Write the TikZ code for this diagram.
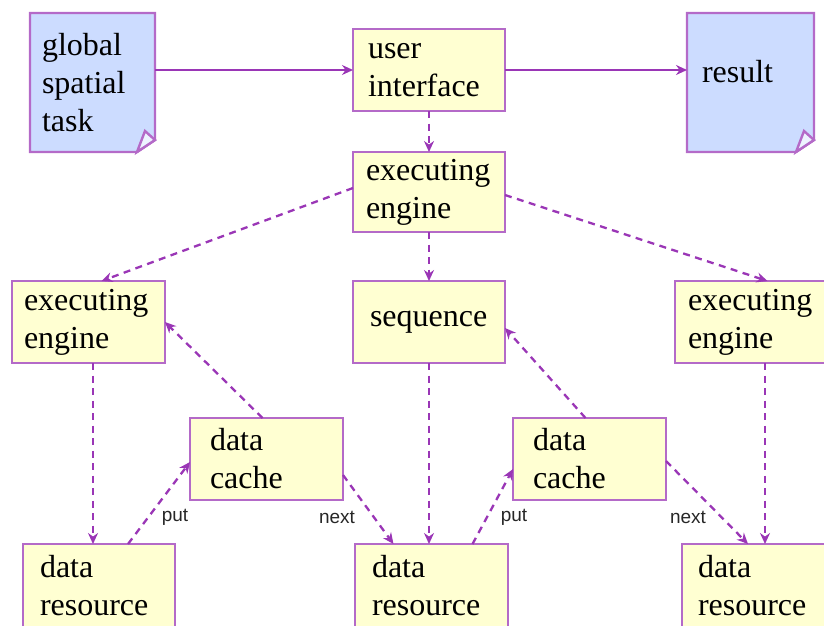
\documentclass[tikz,border=0pt]{standalone}
\usepackage{fontspec}
\setmainfont{Liberation Serif}
\newfontfamily\tagfont{Liberation Sans}
\usetikzlibrary{arrows.meta,backgrounds}

\definecolor{edgeviolet}{HTML}{B46AC8}
\definecolor{flowviolet}{HTML}{9A36B6}
\definecolor{boxyellow}{HTML}{FFFFD2}
\definecolor{docblue}{HTML}{CCDCFF}

\begin{document}
\begin{tikzpicture}[x=1pt,y=-1pt,
  every node/.style={inner sep=0pt, outer sep=0pt},
  stagebox/.style={rectangle, draw=edgeviolet, fill=boxyellow, line width=2.4pt,
    anchor=north west, align=left, inner ysep=0pt,
    font=\fontsize{32}{38}\selectfont},
  docnode/.style={rectangle, anchor=north west, align=left, inner ysep=0pt,
    font=\fontsize{32}{38}\selectfont},
  docline/.style={draw=edgeviolet, fill=docblue, line width=2.4pt, line join=miter},
  flow/.style={draw=flowviolet, line width=2.3pt, dash pattern=on 7pt off 5.5pt,
    -{Stealth[length=11pt,width=10pt]}},
  lead/.style={draw=flowviolet, line width=2.2pt, -{Stealth[length=11pt,width=10pt]}},
  tag/.style={font=\tagfont\fontsize{19}{20}\selectfont, text=black!85}
]
\useasboundingbox (0,0) rectangle (824,626);

% documents
\node[docnode, minimum width=125pt, minimum height=139pt, inner xsep=12pt, text width=101pt]
  (task) at (30,13) {global\\spatial\\task};
\node[docnode, minimum width=127pt, minimum height=139pt, inner xsep=15pt, text width=97pt,
  text depth=22pt] (result) at (687,13) {result};

\begin{scope}[on background layer]
  \foreach \d in {task,result}{
    \draw[docline] (\d.north west) -- (\d.north east) -- ([yshift=12pt]\d.south east)
      -- ([xshift=-18pt]\d.south east) -- (\d.south west) -- cycle;
    \draw[docline, fill=docblue!35] ([xshift=-18pt]\d.south east) -- ([yshift=12pt]\d.south east)
      -- ([xshift=-10pt,yshift=21pt]\d.south east) -- cycle;
  }
\end{scope}

% processing boxes
\node[stagebox, minimum width=152pt, minimum height=82pt, inner xsep=15pt, text width=122pt]
  (ui) at (353,29) {user\\interface};
\node[stagebox, minimum width=152pt, minimum height=80pt, inner xsep=13pt, text width=126pt]
  (ee) at (353,152) {executing\\engine};
\node[stagebox, minimum width=153pt, minimum height=82pt, inner xsep=12pt, text width=129pt]
  (e1) at (12,281) {executing\\engine};
\node[stagebox, minimum width=152pt, minimum height=82pt, inner xsep=17pt, text width=118pt]
  (seq) at (353,281) {sequence};
\node[stagebox, minimum width=155pt, minimum height=82pt, inner xsep=13pt, text width=129pt]
  (e3) at (675,281) {executing\\engine};
\node[stagebox, minimum width=153pt, minimum height=82pt, inner xsep=20pt, text width=113pt]
  (dc1) at (190,418) {data\\cache};
\node[stagebox, minimum width=153pt, minimum height=82pt, inner xsep=20pt, text width=113pt]
  (dc2) at (513,418) {data\\cache};
\node[stagebox, minimum width=152pt, minimum height=84pt, inner xsep=17pt, text width=118pt]
  (dr1) at (23,544) {data\\resource};
\node[stagebox, minimum width=153pt, minimum height=84pt, inner xsep=17pt, text width=119pt]
  (dr2) at (355,544) {data\\resource};
\node[stagebox, minimum width=150pt, minimum height=84pt, inner xsep=16pt, text width=118pt]
  (dr3) at (682,544) {data\\resource};

% solid task flow
\draw[lead] (task.east |- ui.west) -- (ui.west);
\draw[lead] (ui.east) -- (result.west |- ui.east);

% dashed control flow
\draw[flow] (ui.south) -- (ee.north);
\draw[flow] ([yshift=4pt]ee.west) -- ([xshift=13pt]e1.north);
\draw[flow] (ee.south) -- (seq.north);
\draw[flow] ([yshift=-3pt]ee.east) -- ([xshift=15pt]e3.north);

\draw[flow] ([xshift=4.5pt]e1.south) -- ([xshift=4.5pt]e1.south |- dr1.north);
\draw[flow] (seq.south) -- (seq.south |- dr2.north);
\draw[flow] ([xshift=12.5pt]e3.south) -- ([xshift=12.5pt]e3.south |- dr3.north);

\draw[flow] ([xshift=-4pt]dc1.north) -- (e1.east);
\draw[flow] ([xshift=-4pt]dc2.north) -- ([yshift=-6pt]seq.east);

\draw[flow] ([xshift=29pt]dr1.north) -- ([yshift=-3pt]dc1.west);
\draw[flow] ([yshift=-16pt]dc1.east) -- ([xshift=-38pt]dr2.north);
\draw[flow] ([xshift=41pt]dr2.north) -- ([yshift=-10pt]dc2.west);
\draw[flow] ([yshift=-2pt]dc2.east) -- ([xshift=-9pt]dr3.north);

% edge labels
\node[tag] (put1) at (175,517) {put};
\node[tag] (next1) at (337,517) {next};
\node[tag] (put2) at (514,517) {put};
\node[tag] (next2) at (688,517) {next};
\end{tikzpicture}
\end{document}
